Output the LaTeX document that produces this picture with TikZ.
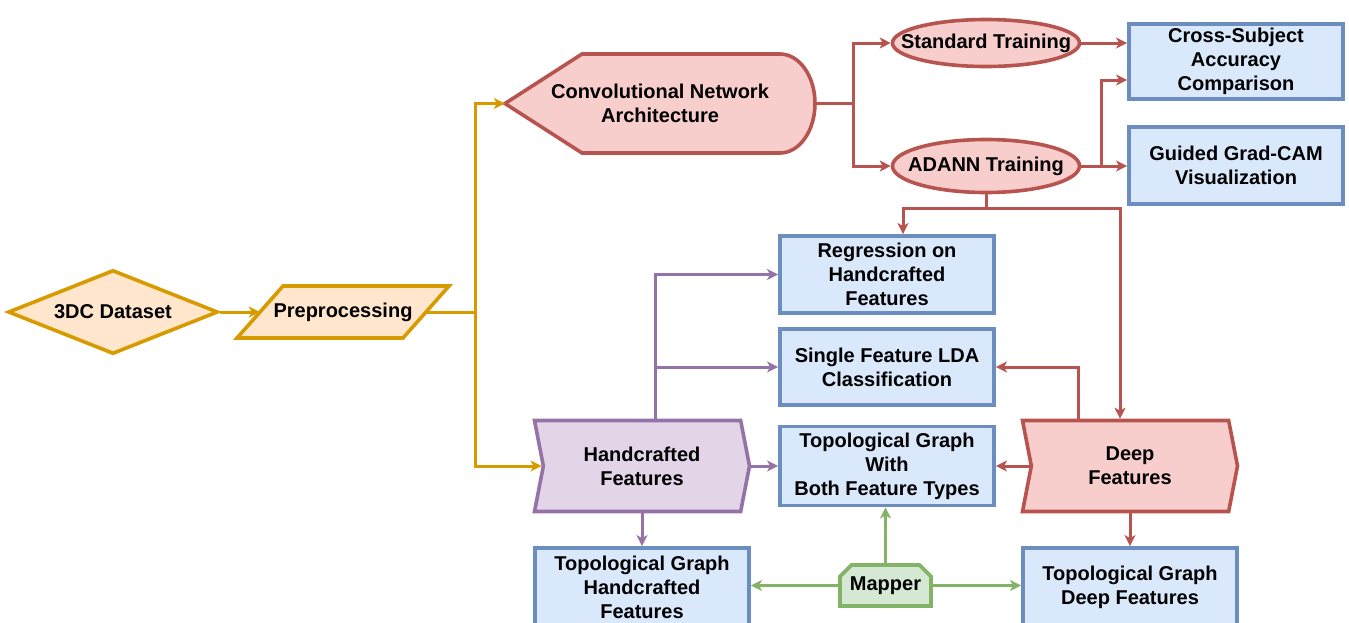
\documentclass[tikz,border=0pt]{standalone}
\usepackage{fontspec}
\setmainfont{Liberation Sans}
\usetikzlibrary{arrows.meta, shapes.geometric, shapes.symbols, shapes.misc}

\definecolor{orangefill}{HTML}{FFE6CC}
\definecolor{orangeline}{HTML}{D79B00}
\definecolor{redfill}{HTML}{F8CECC}
\definecolor{redline}{HTML}{B85450}
\definecolor{bluefill}{HTML}{DAE8FC}
\definecolor{blueline}{HTML}{6C8EBF}
\definecolor{purplefill}{HTML}{E1D5E7}
\definecolor{purpleline}{HTML}{9673A6}
\definecolor{greenfill}{HTML}{D5E8D4}
\definecolor{greenline}{HTML}{82B366}

\tikzset{
  orangeshape/.style={draw=orangeline, fill=orangefill, line width=3.6pt},
  redshape/.style={draw=redline, fill=redfill, line width=3.6pt},
  purpleshape/.style={draw=purpleline, fill=purplefill, line width=3.6pt},
  greenshape/.style={draw=greenline, fill=greenfill, line width=3.6pt},
  box/.style={draw=blueline, fill=bluefill, line width=3.9pt, minimum width=214pt, minimum height=77pt},
  link/.style={line width=3pt, -{Stealth[length=11pt, width=11pt, inset=3pt]}}
}

\begin{document}
\begin{tikzpicture}[x=1pt, y=-1pt, every node/.style={font=\bfseries\fontsize{20}{24}\selectfont, align=center, inner sep=0pt}]
  \useasboundingbox (0,0) rectangle (1349,622);

  \node[diamond, shape aspect=2.5, orangeshape, minimum width=210pt, minimum height=84pt] (data) at (113,312) {3DC Dataset};
  \draw[orangeshape] (237,338) -- (283,286) -- (449,286) -- (403,338) -- cycle;
  \node[minimum width=166pt, minimum height=52pt] (prep) at (343,312) {Preprocessing};

  \draw[redshape] (505,103.5) -- (582,54) -- (780,54) arc[start angle=-90, end angle=90, x radius=35, y radius=49.5] -- (582,153) -- cycle;
  \node[minimum width=310pt, minimum height=99pt] (conv) at (660,103.5) {Convolutional Network\\Architecture};
  \node[ellipse, redshape, minimum width=187pt, minimum height=47pt] (std) at (986,43) {\makebox[0pt]{Standard Training}};
  \node[ellipse, redshape, minimum width=187pt, minimum height=53pt] (adann) at (986,166) {\makebox[0pt]{ADANN Training}};

  \node[box, minimum height=75pt] (cross) at (1236,61.5) {Cross-Subject\\Accuracy\\Comparison};
  \node[box] (gradcam) at (1236,165.5) {Guided Grad-CAM\\Visualization};
  \node[box] (regr) at (887,274.5) {Regression on\\Handcrafted\\Features};
  \node[box, minimum height=76pt] (lda) at (887,367) {Single Feature LDA\\Classification};
  \node[box, minimum height=79pt] (both) at (887,466) {Topological Graph\\With\\Both Feature Types};

  \node[signal, signal to=east, signal from=west, signal pointer angle=158, purpleshape, minimum width=215pt, minimum height=91pt] (hand) at (642,466) {Handcrafted\\Features};
  \node[signal, signal to=east, signal from=west, signal pointer angle=158, redshape, minimum width=215pt, minimum height=91pt] (deep) at (1130,466) {Deep\\Features};

  \node[box, minimum height=78pt] (tophand) at (642,587) {Topological Graph\\Handcrafted\\Features};
  \node[box, minimum height=78pt] (topdeep) at (1130,587) {Topological Graph\\Deep Features};
  \node[chamfered rectangle, chamfered rectangle corners={north west, north east}, chamfered rectangle xsep=8pt, greenshape, minimum width=91pt, minimum height=41pt] (mapper) at (885.5,585.5) {Mapper};

  % orange
  \draw[link, orangeline] (data.east) -- (prep.west);
  \draw[link, orangeline] (prep.east) -- ++(49,0) |- (conv.west);
  \draw[link, orangeline] (prep.east) -- ++(49,0) |- (hand.west);

  % red
  \draw[link, redline] (conv.east) -- ++(38,0) |- (std.west);
  \draw[link, redline] (conv.east) -- ++(38,0) |- (adann.west);
  \draw[link, redline] (std.east) -- (std.east -| cross.west);
  \draw[link, redline] (adann.east) -- (adann.east -| gradcam.west);
  \draw[link, redline] (adann.east) -- ++(20,0) |- ([yshift=-18.5pt]cross.west);
  \draw[link, redline] (adann.south) -- ++(0,14) -| ([xshift=16pt]regr.north);
  \draw[link, redline] (adann.south) -- ++(0,14) -| ([xshift=-10pt]deep.north);
  \draw[link, redline] ([xshift=-52pt]deep.north) |- (lda.east);
  \draw[link, redline] (deep.west) -- (both.east);
  \draw[link, redline] (deep.south) -- (topdeep.north);

  % purple
  \draw[link, purpleline] ([xshift=13pt]hand.north) |- (regr.west);
  \draw[link, purpleline] ([xshift=13pt]hand.north) |- (lda.west);
  \draw[link, purpleline] (hand.east) -- (both.west);
  \draw[link, purpleline] (hand.south) -- (tophand.north);

  % green
  \draw[link, greenline] (mapper.west) -- (mapper.west -| tophand.east);
  \draw[link, greenline] (mapper.east) -- (mapper.east -| topdeep.west);
  \draw[link, greenline] (mapper.north) -- (mapper.north |- both.south);
\end{tikzpicture}
\end{document}
